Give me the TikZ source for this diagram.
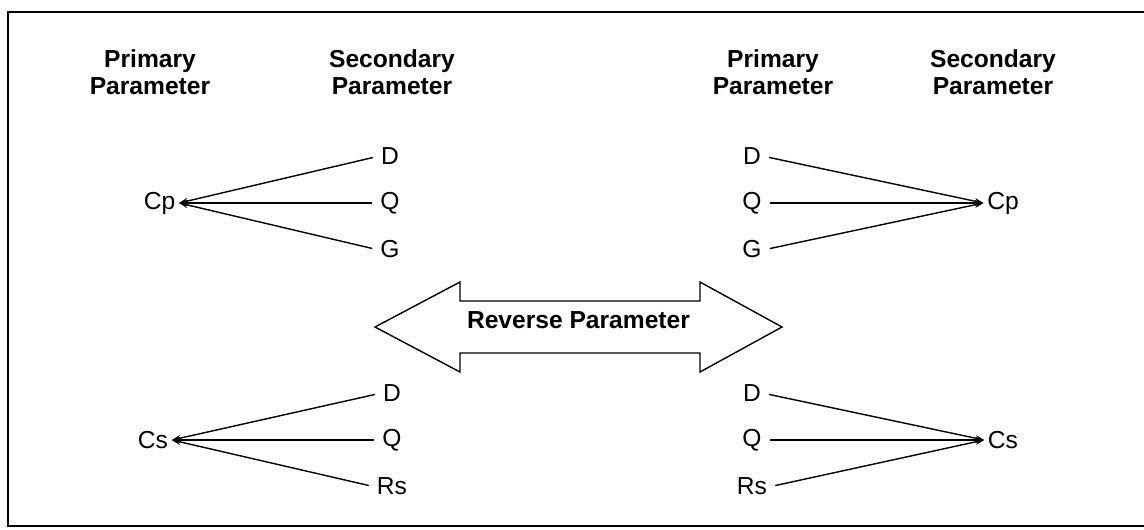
\documentclass[tikz,border=0pt]{standalone}
\usepackage{fontspec}
\setmainfont{Liberation Sans}
\usepackage{tikz}
\usetikzlibrary{positioning, arrows.meta}

\begin{document}
\begin{tikzpicture}
	[node distance=0.93cm,
	 head/.style={text centered, align=center, font=\fontsize{14}{15.5}\selectfont\bfseries},
	 lbl/.style={text centered, inner sep=2pt, font=\fontsize{14}{16}\selectfont},
	 link/.style={-{Stealth[length=5pt,width=3.5pt]}, line width=.8pt, shorten <=2.5pt}]
	\useasboundingbox (0,0) rectangle (22.88,10.58);
	% frame %
	\draw[line width=1pt] (23.2,10.34) -- (0.16,10.34) -- (0.16,0.06) -- (23.2,0.06);

	% headings %
	\node[head] (pl) at (3.0,9.14) {Primary\\Parameter};
	\node[head] (sl) at (7.84,9.14) {Secondary\\Parameter};
	\node[head] (pr) at (15.46,9.14) {Primary\\Parameter};
	\node[head] (sr) at (19.86,9.14) {Secondary\\Parameter};

	% nodes %
	\node[lbl] (cp1) at (3.19,6.52) {Cp};
	\node[lbl] (q1) at (7.8,6.52) {Q};
	\node[lbl, above of = q1] (d1) {D};
	\node[lbl, below of = q1] (g1) {G};

	\node[lbl] (cs1) at (3.06,1.78) {Cs};
	\node[lbl] (q2) at (7.84,1.78) {Q};
	\node[lbl, above of = q2] (d2) {D};
	\node[lbl, below of = q2] (rs1) {Rs};

	\node[lbl] (q3) at (15.04,6.52) {Q};
	\node[lbl, above of = q3] (d3) {D};
	\node[lbl, below of = q3] (g3) {G};
	\node[lbl] (cp2) at (20.06,6.52) {Cp};

	\node[lbl] (q4) at (15.04,1.78) {Q};
	\node[lbl, above of = q4] (d4) {D};
	\node[lbl, below of = q4] (rs2) {Rs};
	\node[lbl] (cs2) at (20.06,1.78) {Cs};

	% edges %
	\draw[link] (d1.west) -- (cp1.east);
	\draw[link] (q1.west) -- (cp1.east);
	\draw[link] (g1.west) -- (cp1.east);
	\draw[link] (d2.west) -- (cs1.east);
	\draw[link] (q2.west) -- (cs1.east);
	\draw[link] (rs1.west) -- (cs1.east);
	\draw[link] (d3.east) -- (cp2.west);
	\draw[link] (q3.east) -- (cp2.west);
	\draw[link] (g3.east) -- (cp2.west);
	\draw[link] (d4.east) -- (cs2.west);
	\draw[link] (q4.east) -- (cs2.west);
	\draw[link] (rs2.east) -- (cs2.west);

	% reverse arrow %
	\draw[line width=.8pt, line join=miter] (7.5,4.04) -- (9.2,4.94) -- (9.2,4.56) -- (14.0,4.56)
		-- (14.0,4.94) -- (15.64,4.04) -- (14.0,3.14) -- (14.0,3.52) -- (9.2,3.52)
		-- (9.2,3.14) -- cycle;
	\node[head] (rev) at (11.57,4.18) {Reverse Parameter};
\end{tikzpicture}
\end{document}
